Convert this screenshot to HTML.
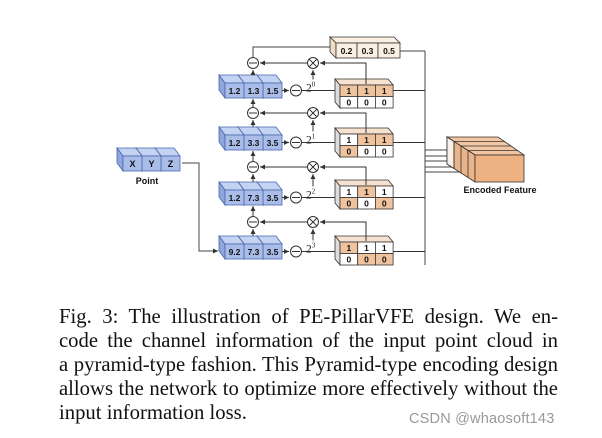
<!DOCTYPE html>
<html><head><meta charset="utf-8"><style>
html,body{margin:0;padding:0;background:#fff;width:602px;height:438px;overflow:hidden;position:relative}
svg{position:absolute;left:0;top:0}
.cap{position:absolute;left:59px;width:499px;font-family:"Liberation Serif",serif;font-size:20.7px;color:#111;white-space:nowrap;line-height:24px}
.j{text-align:justify;text-align-last:justify;white-space:normal}
.wm{position:absolute;left:409px;top:411px;font-family:"Liberation Sans",sans-serif;font-size:14.5px;color:#999;letter-spacing:0.2px}
</style></head><body>
<svg width="602" height="438" viewBox="0 0 602 438" font-family="Liberation Sans, sans-serif">
<defs>
<marker id="a" markerWidth="6" markerHeight="6" refX="5" refY="3" orient="auto"><path d="M0,0.5 L5,3 L0,5.5z" fill="#333"/></marker>
<g id="bc"><path d="M-6,-8 h19 l6,8 h-19z" fill="#c5d3f2" stroke="#4a67b0" stroke-width="0.8"/><path d="M-6,-8 l6,8 v15 l-6,-8z" fill="#8ea6dc" stroke="#4a67b0" stroke-width="0.8"/><rect x="0" y="0" width="19" height="15" fill="#a9bde8" stroke="#4a67b0" stroke-width="0.8"/></g>
</defs>
<g stroke="#444" stroke-width="1" fill="none">
<polyline points="182,163 199,163 199,251 218,251" marker-end="url(#a)"/>
<polyline points="253,58 253,47 330,47"/>
<line x1="400" y1="51" x2="425" y2="51"/>
<line x1="425" y1="51" x2="425" y2="265"/>
<line x1="425" y1="150" x2="452" y2="150"/><line x1="425" y1="156" x2="458" y2="156"/><line x1="425" y1="161" x2="465" y2="161"/><line x1="425" y1="167" x2="471" y2="167"/><line x1="425" y1="172" x2="477" y2="172"/>
</g>
<use href="#bc" x="161" y="156"/><use href="#bc" x="142" y="156"/><use href="#bc" x="123" y="156"/>
<g font-size="9" font-weight="bold" text-anchor="middle" fill="#111"><text x="132.5" y="167">X</text><text x="151.5" y="167">Y</text><text x="170.5" y="167">Z</text>
<text x="147" y="184" font-size="9">Point</text></g>
<g stroke="#333" stroke-width="0.8">
<path d="M330,37 h64 l6,6 h-64z" fill="#fbeee2"/><path d="M330,37 l6,6 v15 l-6,-6z" fill="#f3dcc6"/>
<rect x="336" y="43" width="21" height="15" fill="#fbeee2"/><rect x="357" y="43" width="21" height="15" fill="#fbeee2"/><rect x="378" y="43" width="22" height="15" fill="#fbeee2"/></g>
<g font-size="8.5" font-weight="bold" text-anchor="middle" fill="#111"><text x="346.5" y="54">0.2</text><text x="367.5" y="54">0.3</text><text x="389" y="54">0.5</text></g>
<g id="rows"></g>
<g stroke="#333" stroke-width="0.8">
<path d="M447,137 h51 l26,18 h-49z" fill="#f2c6a2"/>
<path d="M447,137 l28,18 v27 l-28,-18z" fill="#e9b48a"/>
<path d="M447,137 l7,4.5 v27 l-7,-4.5z" fill="#faf0e8"/>
<rect x="475" y="155" width="49" height="27" fill="#eeb182"/>
<line x1="454" y1="141.5" x2="505" y2="141.5"/><line x1="461" y1="146" x2="511" y2="146"/><line x1="468" y1="150.5" x2="518" y2="150.5"/>
<line x1="454" y1="141.5" x2="454" y2="168.5"/><line x1="461" y1="146" x2="461" y2="173"/><line x1="468" y1="150.5" x2="468" y2="177.5"/>
</g>
<text x="500" y="193" font-size="9" font-weight="bold" text-anchor="middle" fill="#111">Encoded Feature</text>
</svg>
<script>
var P='#f0c39f',W='#ffffff';
var rows=[
{y:83,by:85,v:['1.2','1.3','1.5'],cy:63,c:[[P,P,P],[W,W,W]]},
{y:135,by:134,v:['1.2','3.3','3.5'],cy:113,c:[[W,P,P],[P,W,W]]},
{y:190,by:186,v:['1.2','7.3','3.5'],cy:167,c:[[W,P,W],[P,W,P]]},
{y:244,by:242,v:['9.2','7.3','3.5'],cy:222,c:[[P,W,W],[W,P,P]]}];
var s='';
rows.forEach(function(r,i){
 var my=r.y+7.5;
 s+='<line x1="301.5" y1="'+my+'" x2="425" y2="'+my+'" stroke="#333"/>';
 for(var k=2;k>=0;k--){s+='<use href="#bc" x="'+(225+19*k)+'" y="'+r.y+'"/>';}
 for(var k=0;k<3;k++){s+='<text x="'+(234.5+19*k)+'" y="'+(r.y+11)+'" font-size="8.5" font-weight="bold" text-anchor="middle" fill="#111">'+r.v[k]+'</text>';}
 var bx=340,w=17.7;
 s+='<path d="M'+(bx-5)+','+(r.by-6)+' h'+(3*w)+' l5,6 h-'+(3*w)+'z" fill="#f7e2d0" stroke="#333" stroke-width="0.8"/>';
 s+='<path d="M'+(bx-5)+','+(r.by-6)+' l5,6 v23 l-5,-6z" fill="#ddd" stroke="#333" stroke-width="0.8"/>';
 for(var rr=0;rr<2;rr++)for(var k=0;k<3;k++){
  s+='<rect x="'+(bx+w*k)+'" y="'+(r.by+rr*11.5)+'" width="'+w+'" height="11.5" fill="'+r.c[rr][k]+'" stroke="#333" stroke-width="0.8"/>';
  s+='<text x="'+(bx+w*k+w/2)+'" y="'+(r.by+rr*11.5+9)+'" font-size="8.5" font-weight="bold" text-anchor="middle" fill="#111">'+(rr==0?'1':'0')+'</text>';}
 s+='<line x1="282" y1="'+my+'" x2="289" y2="'+my+'" stroke="#333" marker-end="url(#a)"/>';
 s+='<circle cx="296" cy="'+my+'" r="5.5" fill="#fff" stroke="#333"/><line x1="292" y1="'+my+'" x2="300" y2="'+my+'" stroke="#333"/>';
 s+='<text x="306" y="'+(my+1)+'" font-family="Liberation Serif,serif" font-size="11.5" fill="#222">2<tspan font-size="7" dy="-5">'+i+'</tspan></text>';
 s+='<line x1="313" y1="'+(my-11)+'" x2="313" y2="'+(r.cy+7)+'" stroke="#333" marker-end="url(#a)"/>';
 var c=r.cy;
 s+='<circle cx="313" cy="'+c+'" r="5.5" fill="#fff" stroke="#333"/><line x1="309" y1="'+(c-4)+'" x2="317" y2="'+(c+4)+'" stroke="#333"/><line x1="317" y1="'+(c-4)+'" x2="309" y2="'+(c+4)+'" stroke="#333"/>';
 s+='<polyline points="366,'+(r.by-1)+' 366,'+c+' 320,'+c+'" fill="none" stroke="#333" marker-end="url(#a)"/>';
 s+='<line x1="307" y1="'+c+'" x2="260" y2="'+c+'" stroke="#333" marker-end="url(#a)"/>';
 s+='<circle cx="253" cy="'+c+'" r="5.5" fill="#fff" stroke="#333"/><line x1="249" y1="'+c+'" x2="257" y2="'+c+'" stroke="#333"/>';
 s+='<line x1="253" y1="'+(r.y-8)+'" x2="253" y2="'+(c+7)+'" stroke="#333" marker-end="url(#a)"/>';
 if(i>0){s+='<line x1="253" y1="'+(c-5.5)+'" x2="253" y2="'+(rows[i-1].y+16)+'" stroke="#333" marker-end="url(#a)"/>';}
});
document.getElementById('rows').innerHTML=s;
</script>
<div class="cap j" style="top:305px">Fig. 3: The illustration of PE-PillarVFE design. We en-</div>
<div class="cap j" style="top:329px">code the channel information of the input point cloud in</div>
<div class="cap j" style="top:353px">a pyramid-type fashion. This Pyramid-type encoding design</div>
<div class="cap j" style="top:377px">allows the network to optimize more effectively without the</div>
<div class="cap" style="top:401px">input information loss.</div>
<div class="wm">CSDN @whaosoft143</div>
</body></html>
